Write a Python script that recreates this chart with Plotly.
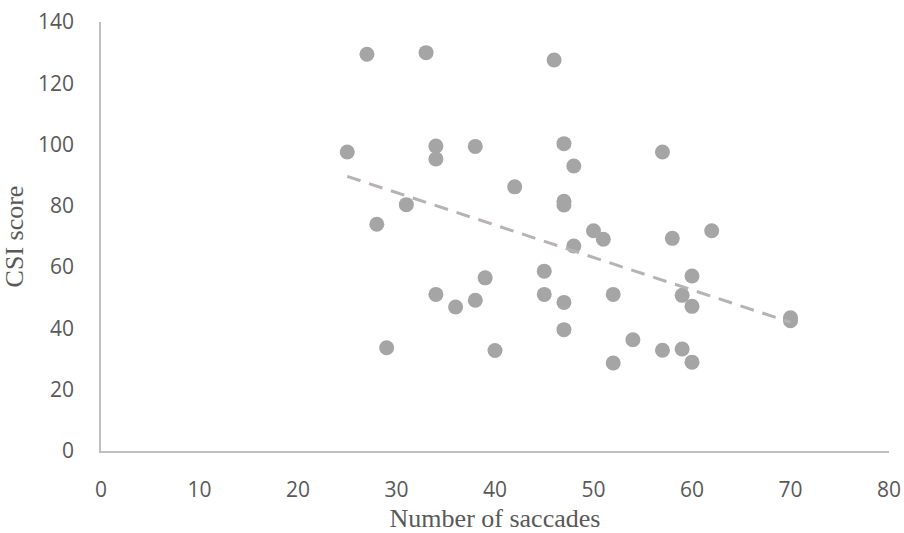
import numpy as np
import plotly.graph_objects as go

saccades = [25, 27, 28, 29, 31, 33, 34, 34, 34, 36, 38, 38, 39, 40, 42, 45, 45, 46,
            47, 47, 47, 47, 47, 48, 48, 50, 51, 52, 52, 54, 57, 57, 58, 59, 59, 60,
            60, 60, 62, 70, 70]
csi = [97.6, 129.5, 74, 33.7, 80.4, 130, 99.5, 95.3, 51.1, 47, 49.2, 99.4, 56.5, 32.8,
       86.2, 58.7, 51.1, 127.6, 100.3, 81.5, 80.3, 48.5, 39.6, 93, 66.9, 71.9, 69.1,
       51.1, 28.7, 36.3, 97.6, 32.9, 69.4, 50.8, 33.3, 57.1, 47.2, 29, 71.9, 43.5, 42.5]

x_ticks = [0, 10, 20, 30, 40, 50, 60, 70, 80]
y_ticks = [0, 20, 40, 60, 80, 100, 120, 140]

slope, intercept = np.polyfit(saccades, csi, 1)
tx = [min(saccades), max(saccades)]
ty = [slope * v + intercept for v in tx]

fig = go.Figure()
fig.add_trace(go.Scatter(x=saccades, y=csi, mode="markers",
                         marker=dict(size=15, color="#A5A5A5", line=dict(width=0)),
                         showlegend=False, hoverinfo="skip", cliponaxis=False))
fig.add_trace(go.Scatter(x=tx, y=ty, mode="lines",
                         line=dict(color="#B8B3B3", width=3, dash="14px,9px"),
                         showlegend=False, hoverinfo="skip"))

tick_font = dict(family="Open Sans, Liberation Sans, sans-serif", size=21, color="#595959")
title_font = dict(family="Liberation Serif, Times New Roman, serif", size=26, color="#595959")

fig.update_layout(
    width=904, height=533,
    margin=dict(l=101, r=15, t=22, b=82),
    paper_bgcolor="white", plot_bgcolor="white",
    xaxis=dict(range=[0, 80], tickvals=x_ticks, showgrid=False, zeroline=False,
               showline=True, linecolor="#BFBFBF", linewidth=1.5, ticks="",
               tickfont=tick_font, ticklabelstandoff=19, automargin=False,
               title=dict(text="Number of saccades", font=title_font, standoff=9)),
    yaxis=dict(range=[0, 140], tickvals=y_ticks, showgrid=False, zeroline=False,
               showline=True, linecolor="#BFBFBF", linewidth=1.5, ticks="",
               tickfont=tick_font, ticklabelstandoff=21, automargin=False,
               title=dict(text="CSI score", font=title_font, standoff=9)),
)

fig.write_html("out.html")
